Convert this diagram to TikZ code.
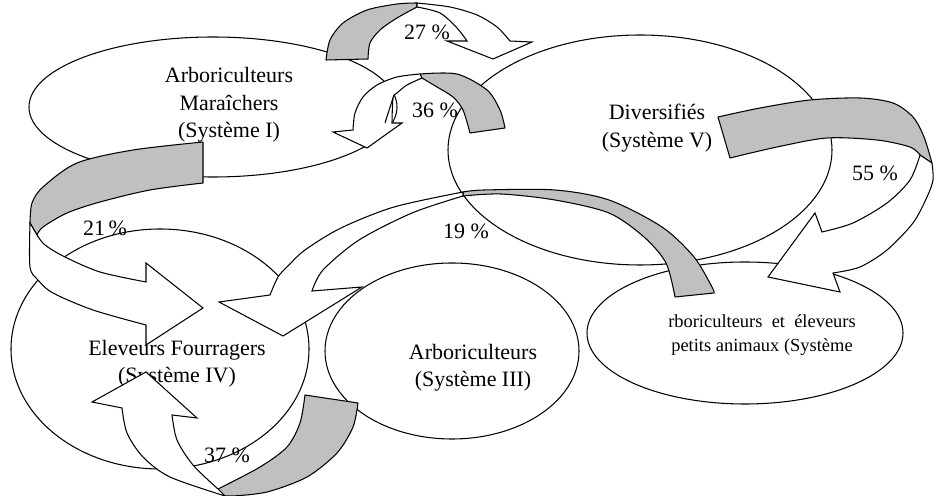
\documentclass[tikz,border=0pt]{standalone}
\usepackage{fontspec}
\setmainfont{Liberation Serif}
\usepackage{xcolor}
\usetikzlibrary{shapes.geometric}

\definecolor{bandgray}{RGB}{192,192,192}

\begin{document}
\begin{tikzpicture}[x=0.02cm, y=-0.02cm,
    sys/.style 2 args={ellipse, draw, line width=0.6pt, minimum width=#1*0.02cm, minimum height=#2*0.02cm, inner sep=0pt},
    lbl/.style={align=center, font=\fontsize{12.5}{15.6}\selectfont, inner sep=0pt},
    small/.style={align=center, font=\fontsize{10.5}{13.6}\selectfont, inner sep=0pt},
    pct/.style={font=\fontsize{12.5}{15}\selectfont, inner sep=0pt},
    back/.style={fill=bandgray, draw, line width=0.6pt, line join=round},
    front/.style={fill=white, draw, line width=0.6pt}
]
    \useasboundingbox (0,0) rectangle (941,496);

    % the five systems
    \node[sys={368}{140}] (sI) at (213,107) {};
    \node[sys={384}{230}] (sV) at (640,150) {};
    \node[sys={298}{240}] (sIV) at (160,349) {};
    \node[sys={254}{176}] (sIII) at (452,351) {};
    \node[sys={316}{142}] (sP) at (745,333) {};

    \node[lbl] (tI) at (229,105) {Arboriculteurs\\Maraîchers\\(Système I)};
    \node[lbl] (tV) at (657,128) {Diversifiés\\(Système V)};
    \node[lbl] (tIV) at (177,364) {Eleveurs Fourragers\\(Système IV)};
    \node[lbl] (tIII) at (473,368) {Arboriculteurs\\(Système III)};
    \node[small] (tP) at (762,335) {rboriculteurs \ et \ éleveurs\\petits animaux (Système};

    % 27 %
    \filldraw[back] plot[smooth] coordinates {(326,60) (330,40) (343,23) (367,10) (397,4) (417,3)}
        -- plot[smooth] coordinates {(417,7) (397,18) (380,30) (370,43) (368,59)} -- cycle;
    \filldraw[front] plot[smooth] coordinates {(417,3) (450,7) (477,15) (497,27) (510,41)}
        -- (532,42) -- (493,59) -- (447,41)
        -- plot[smooth] coordinates {(467,41) (457,28) (440,13) (417,7)} -- cycle;

    % 36 %
    \filldraw[back] plot[smooth] coordinates {(420,74) (457,74) (487,90) (500,110) (505,128)}
        -- (470,133) -- plot[smooth] coordinates {(470,133) (463,110) (453,97) (437,87) (422,78)} -- cycle;
    \filldraw[front] plot[smooth] coordinates {(420,74) (397,77) (377,85) (363,97) (355,113) (353,130)}
        -- (333,132) -- (367,148) -- (402,123)
        -- plot[smooth] coordinates {(392,123) (393,98) (397,93) (407,85) (422,78)} -- cycle;
    \draw[line width=0.6pt] (393,98) -- (385,123);

    % 21 %
    \filldraw[back] plot[smooth] coordinates {(203,142) (133,150) (77,163) (43,187) (32,203) (30,223)}
        -- plot[smooth] coordinates {(37,235) (43,227) (67,213) (100,202) (150,190) (203,183)} -- cycle;
    \filldraw[front] plot[smooth] coordinates {(30,223) (30,267) (38,280) (53,293) (93,310) (146,325)}
        -- (146,345) -- (203,308) -- (146,263)
        -- plot[smooth] coordinates {(146,282) (100,272) (65,257) (45,245) (37,235)} -- cycle;

    % 19 %
    \filldraw[back] plot[smooth] coordinates {(463,192) (484,190) (555,190) (609,200) (662,227) (694,257) (712,287) (714,293)}
        -- (675,297) -- plot[smooth] coordinates {(675,297) (666,263) (644,237) (609,213) (555,200) (501,194) (463,196)} -- cycle;
    \filldraw[front] plot[smooth] coordinates {(463,192) (394,207) (341,228) (305,250) (287,267) (278,277) (270,295)}
        -- (219,302) -- (283,336) -- (362,287)
        -- plot[smooth] coordinates {(312,291) (323,270) (359,240) (412,213) (463,196)} -- cycle;

    % 55 %
    \filldraw[back] plot[smooth] coordinates {(718,117) (760,108) (810,100) (860,98) (893,103) (913,117) (924,137) (932,163)}
        -- plot[smooth] coordinates {(920,155) (910,147) (877,140) (827,138) (777,147) (730,158)} -- cycle;
    \filldraw[front] plot[smooth] coordinates {(932,163) (933,180) (927,197) (913,223) (887,250) (860,267) (833,273)}
        -- (840,292) -- (768,277) -- (815,213)
        -- plot[smooth] coordinates {(822,232) (853,223) (887,203) (910,180) (920,155)} -- cycle;

    % 37 %
    \filldraw[back] plot[smooth] coordinates {(305,395) (300,423) (287,447) (260,467) (218,489)}
        -- (225,496) -- plot[smooth] coordinates {(233,496) (267,492) (307,477) (337,453) (353,427) (358,403)} -- cycle;
    \filldraw[front] plot[smooth] coordinates {(225,496) (170,477) (143,457) (127,433) (122,408)}
        -- (92,402) -- (146,372) -- (197,418)
        -- plot[smooth] coordinates {(172,415) (177,440) (193,465) (218,489)} -- cycle;

    % shares
    \node[pct] (p27) at (427,32) {27 \%};
    \node[pct] (p36) at (435,110) {36 \%};
    \node[pct] (p21) at (105,228) {21\,\%};
    \node[pct] (p19) at (466,231) {19 \%};
    \node[pct] (p55) at (875,173) {55 \%};
    \node[pct] (p37) at (227,455) {37 \%};
\end{tikzpicture}
\end{document}
